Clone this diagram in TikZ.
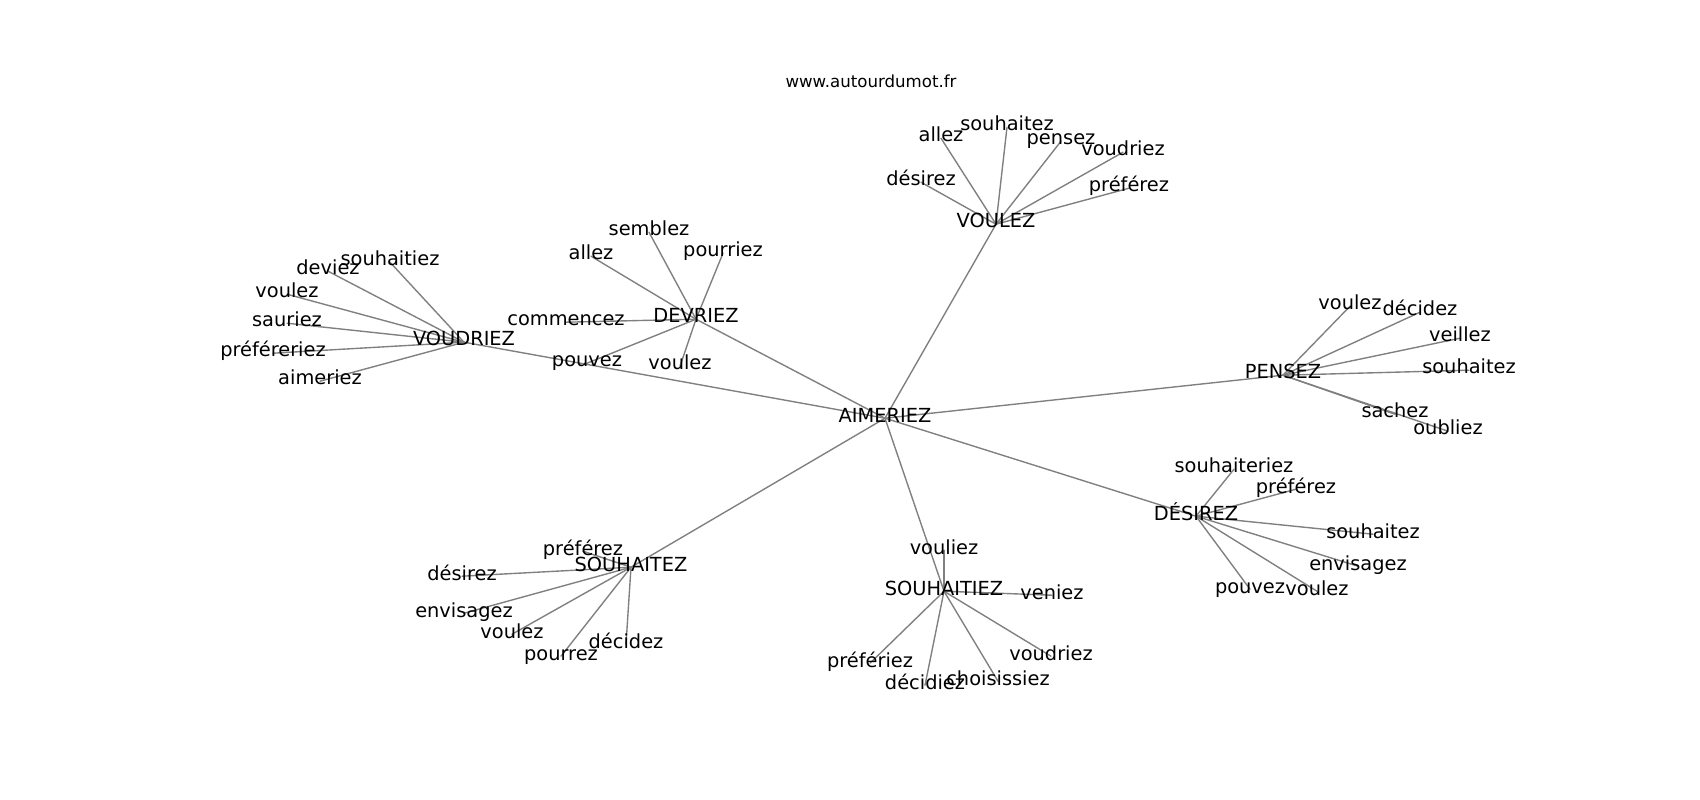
\documentclass[tikz,border=0pt]{standalone}
\usepackage{fontspec}
\setmainfont{DejaVu Sans}
\usetikzlibrary{backgrounds}
\definecolor{edgegray}{HTML}{808080}
\tikzset{
  lab/.style={anchor=base, inner sep=0pt, text=black, font=\fontsize{14}{17}\selectfont},
  ttl/.style={anchor=base, inner sep=0pt, text=black, font=\fontsize{12}{14}\selectfont},
  link/.style={draw=edgegray, line width=1pt, line cap=round},
}
\begin{document}
\begin{tikzpicture}[x=0.01in, y=-0.01in]
  \useasboundingbox (0,0) rectangle (1700,800);
  \node[ttl] (site) at (871,88) {www.autourdumot.fr};
  % hubs
  \node[lab] (AIM) at (885,422) {AIMERIEZ};
  \node[lab] (VOUL) at (996,228) {VOULEZ};
  \node[lab] (DEVR) at (696,323) {DEVRIEZ};
  \node[lab] (VOUD) at (464,346) {VOUDRIEZ};
  \node[lab] (PENS) at (1283,379) {PENSEZ};
  \node[lab] (DESI) at (1196,520) {DÉSIREZ};
  \node[lab] (SOUHI) at (944,595) {SOUHAITIEZ};
  \node[lab] (SOUHA) at (631,571) {SOUHAITEZ};
  % VOULEZ
  \node[lab] (vz-allez) at (941,142) {allez};
  \node[lab] (vz-souhaitez) at (1007,131) {souhaitez};
  \node[lab] (vz-pensez) at (1061,145) {pensez};
  \node[lab] (vz-voudriez) at (1123,156) {voudriez};
  \node[lab] (vz-desirez) at (921,186) {désirez};
  \node[lab] (vz-preferez) at (1129,192) {préférez};
  % DEVRIEZ
  \node[lab] (dv-semblez) at (649,236) {semblez};
  \node[lab] (dv-allez) at (591,260) {allez};
  \node[lab] (dv-pourriez) at (723,257) {pourriez};
  \node[lab] (dv-commencez) at (566,326) {commencez};
  \node[lab] (dv-pouvez) at (587,367) {pouvez};
  \node[lab] (dv-voulez) at (680,370) {voulez};
  % VOUDRIEZ
  \node[lab] (vd-souhaitiez) at (390,266) {souhaitiez};
  \node[lab] (vd-deviez) at (328,275) {deviez};
  \node[lab] (vd-voulez) at (287,298) {voulez};
  \node[lab] (vd-sauriez) at (287,327) {sauriez};
  \node[lab] (vd-prefereriez) at (273,357) {préféreriez};
  \node[lab] (vd-aimeriez) at (320,385) {aimeriez};
  % PENSEZ
  \node[lab] (pz-voulez) at (1350,310) {voulez};
  \node[lab] (pz-decidez) at (1420,316) {décidez};
  \node[lab] (pz-veillez) at (1460,342) {veillez};
  \node[lab] (pz-souhaitez) at (1469,374) {souhaitez};
  \node[lab] (pz-sachez) at (1395,418) {sachez};
  \node[lab] (pz-oubliez) at (1448,435) {oubliez};
  % DESIREZ
  \node[lab] (ds-souhaiteriez) at (1234,473) {souhaiteriez};
  \node[lab] (ds-preferez) at (1296,493) {préférez};
  \node[lab] (ds-souhaitez) at (1373,538) {souhaitez};
  \node[lab] (ds-envisagez) at (1358,570) {envisagez};
  \node[lab] (ds-pouvez) at (1250,593) {pouvez};
  \node[lab] (ds-voulez) at (1317,595) {voulez};
  % SOUHAITIEZ
  \node[lab] (st-vouliez) at (944,554) {vouliez};
  \node[lab] (st-veniez) at (1052,599) {veniez};
  \node[lab] (st-preferiez) at (870,667) {préfériez};
  \node[lab] (st-decidiez) at (925,689) {décidiez};
  \node[lab] (st-choisissiez) at (998,685) {choisissiez};
  \node[lab] (st-voudriez) at (1051,660) {voudriez};
  % SOUHAITEZ
  \node[lab] (sh-preferez) at (583,555) {préférez};
  \node[lab] (sh-desirez) at (462,580) {désirez};
  \node[lab] (sh-envisagez) at (464,617) {envisagez};
  \node[lab] (sh-voulez) at (512,638) {voulez};
  \node[lab] (sh-pourrez) at (561,660) {pourrez};
  \node[lab] (sh-decidez) at (626,648) {décidez};
  % edges behind the words
  \begin{scope}[on background layer]
    \fill[white] (0,0) rectangle (1700,800);
    \foreach \h in {VOUL,DEVR,VOUD,PENS,DESI,SOUHI,SOUHA}
      \draw[link] (AIM.mid) -- (\h.mid);
    \foreach \l in {allez,souhaitez,pensez,voudriez,desirez,preferez}
      \draw[link] (VOUL.mid) -- (vz-\l.mid);
    \foreach \l in {semblez,allez,pourriez,commencez,pouvez,voulez}
      \draw[link] (DEVR.mid) -- (dv-\l.mid);
    \foreach \l in {souhaitiez,deviez,voulez,sauriez,prefereriez,aimeriez}
      \draw[link] (VOUD.mid) -- (vd-\l.mid);
    \foreach \l in {voulez,decidez,veillez,souhaitez,sachez,oubliez}
      \draw[link] (PENS.mid) -- (pz-\l.mid);
    \foreach \l in {souhaiteriez,preferez,souhaitez,envisagez,pouvez,voulez}
      \draw[link] (DESI.mid) -- (ds-\l.mid);
    \foreach \l in {vouliez,veniez,preferiez,decidiez,choisissiez,voudriez}
      \draw[link] (SOUHI.mid) -- (st-\l.mid);
    \foreach \l in {preferez,desirez,envisagez,voulez,pourrez,decidez}
      \draw[link] (SOUHA.mid) -- (sh-\l.mid);
  \end{scope}
\end{tikzpicture}
\end{document}
